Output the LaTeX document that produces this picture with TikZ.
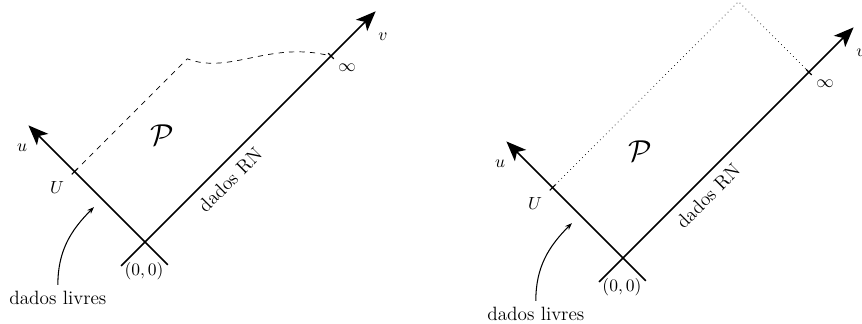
\documentclass[tikz,border=0pt]{standalone}
\usetikzlibrary{arrows.meta}
\begin{document}
\begin{tikzpicture}[
  axis/.style={line width=0.9pt, -{Stealth[length=4mm,width=3.2mm,inset=1mm]}},
  tickmark/.style={line width=0.7pt},
  note/.style={line width=0.6pt, -{Stealth[length=4pt,width=3pt]}},
  words/.style={font=\fontsize{11}{13}\selectfont}
]
  \useasboundingbox (0,0) rectangle (17.31,6.506);
  \clip (0,0) rectangle (17.31,6.506);

  % both panels share the axes and labels
  \foreach \s/\ox/\oy in {A/2.912/1.647, B/12.51/1.325}{
    \begin{scope}[shift={(\ox,\oy)}, rotate=45]
      \coordinate (\s-o) at (0,0);
      \coordinate (\s-ulow) at (0,-0.65);
      \coordinate (\s-utip) at (0,3.31);
      \coordinate (\s-vlow) at (-0.68,0);
      \coordinate (\s-vtip) at (6.55,0);
      \coordinate (\s-U) at (0,2);
      \coordinate (\s-inf) at (5.28,0);
      \coordinate (\s-mid) at (3.2,2);
      \coordinate (\s-c1) at (3.58,1.16);
      \coordinate (\s-c2) at (4.64,1.09);
      \coordinate (\s-top) at (5.28,2);
      \coordinate (\s-hit) at (-0.23,1.22);

      \draw[axis] (\s-ulow) -- (\s-utip);
      \draw[axis] (\s-vlow) -- (\s-vtip);
      \draw[tickmark] (-0.08,2) -- (0.08,2);
      \draw[tickmark] (5.28,-0.08) -- (5.28,0.08);

      \node (\s-ulab) at (-0.41,3.08) {$u$};
      \node (\s-vlab) at (6.29,-0.47) {$v$};
      \node (\s-Ulab) at (-0.47,2.03) {$U$};
      \node (\s-inflab) at (5.34,-0.40) {$\infty$};
      \node (\s-P) at (1.76,1.28) {\LARGE$\mathcal{P}$};
      \node[words, rotate=45] (\s-rn) at (2.09,-0.33) {dados RN};
      \node (\s-zero) at (-0.43,-0.40) {$(0,0)$};
    \end{scope}
    \begin{scope}[shift={(\ox,\oy)}]
      \node[words] (\s-free) at (-1.75,-1.12) {dados livres};
      \draw[note] (\s-free.north) to[out=90,in=225] (\s-hit);
    \end{scope}
  }

  % left: curved boundary, right: straight boundary
  \draw[dashed] (A-U) -- (A-mid) .. controls (A-c1) and (A-c2) .. (A-inf);
  \draw[dotted] (B-U) -- (B-top) -- (B-inf);
\end{tikzpicture}
\end{document}
